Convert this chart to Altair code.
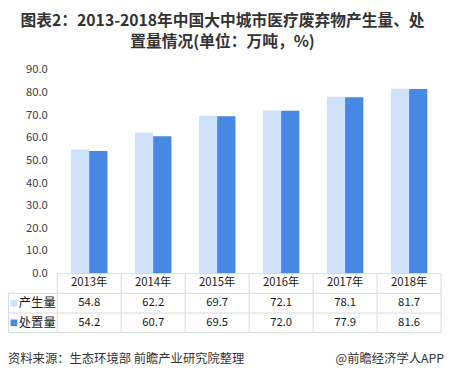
import altair as alt
import pandas as pd

# ---- data ----
years = ["2013年", "2014年", "2015年", "2016年", "2017年", "2018年"]
production = [54.8, 62.2, 69.7, 72.1, 78.1, 81.7]
disposal = [54.2, 60.7, 69.5, 72.0, 77.9, 81.6]
series_names = ["产生量", "处置量"]
series_colors = ["#cde1f9", "#4688e2"]
y_ticks = [0, 10, 20, 30, 40, 50, 60, 70, 80, 90]
title_lines = ["图表2：2013-2018年中国大中城市医疗废弃物产生量、处", "置量情况(单位：万吨，%)"]
source_text = "资料来源：生态环境部 前瞻产业研究院整理"
brand_text = "@前瞻经济学人APP"
header_key = "年份"

# ---- layout ----
W = 390
H_PLOT = 207
ROW = 20
H = H_PLOT + 3 * ROW
LINE_C = "#d9d9d9"
FONT = "Noto Sans CJK SC"
TABLE_LEFT = -49.5

rows = [header_key] + series_names

long_df = pd.DataFrame(
    [{"year": y, "series": series_names[0], "value": v} for y, v in zip(years, production)]
    + [{"year": y, "series": series_names[1], "value": v} for y, v in zip(years, disposal)]
)

table_df = pd.DataFrame(
    [{"year": y, "row": header_key, "label": y} for y in years]
    + [{"year": r["year"], "row": r["series"], "label": f"{r['value']:.1f}"} for _, r in long_df.iterrows()]
)
legend_df = pd.DataFrame({"row": series_names, "series": series_names})

color_scale = alt.Scale(domain=series_names, range=series_colors)

bars = alt.Chart(long_df).mark_bar().encode(
    x=alt.X("year:N", sort=years, axis=None,
            scale=alt.Scale(paddingInner=0.43, paddingOuter=0.215)),
    xOffset=alt.XOffset("series:N", sort=series_names,
                        scale=alt.Scale(paddingInner=0, paddingOuter=0)),
    y=alt.Y("value:Q",
            scale=alt.Scale(domain=[0, 90], range=[H_PLOT, 0], nice=False, zero=True),
            axis=alt.Axis(values=y_ticks, format=".1f", domain=False, ticks=False,
                          grid=False, labelPadding=10, labelFontSize=11.5,
                          labelColor="#404040", labelFont=FONT, title=None)),
    color=alt.Color("series:N", scale=color_scale, legend=None),
)

x_tab = alt.X("year:N", sort=years, axis=None, scale=alt.Scale(paddingInner=0, paddingOuter=0))
y_tab = alt.Y("row:N", sort=rows, axis=None,
              scale=alt.Scale(domain=rows, range=[H_PLOT, H], paddingInner=0, paddingOuter=0))

cells = alt.Chart(table_df).mark_text(fontSize=11.5, color="#1a1a1a", font=FONT).encode(
    x=x_tab, y=y_tab, text="label:N"
)

legend_sq = alt.Chart(legend_df).mark_square(size=46, opacity=1).encode(
    x=alt.value(-44), y=y_tab, color=alt.Color("series:N", scale=color_scale, legend=None)
)
legend_tx = alt.Chart(legend_df).mark_text(align="left", fontSize=12.5, color="#1a1a1a", font=FONT).encode(
    x=alt.value(-39), y=y_tab, text="row:N"
)

vlines = alt.Chart(pd.DataFrame({"year": years})).mark_rule(color=LINE_C).encode(
    x=alt.X("year:N", sort=years, axis=None, bandPosition=0,
            scale=alt.Scale(paddingInner=0, paddingOuter=0)),
    y=alt.value(H_PLOT), y2=alt.value(H)
)
line_base = alt.Chart(pd.DataFrame({"k": [0]}))
right_border = line_base.mark_rule(color=LINE_C).encode(
    x=alt.value(W), y=alt.value(H_PLOT), y2=alt.value(H))
left_border = line_base.mark_rule(color=LINE_C).encode(
    x=alt.value(TABLE_LEFT), y=alt.value(H_PLOT + ROW), y2=alt.value(H))
axis_line = line_base.mark_rule(color=LINE_C).encode(
    x=alt.value(0), x2=alt.value(W), y=alt.value(H_PLOT))
hl1 = line_base.mark_rule(color=LINE_C).encode(
    x=alt.value(TABLE_LEFT), x2=alt.value(W), y=alt.value(H_PLOT + ROW))
hl2 = line_base.mark_rule(color=LINE_C).encode(
    x=alt.value(TABLE_LEFT), x2=alt.value(W), y=alt.value(H_PLOT + 2 * ROW))
hl3 = line_base.mark_rule(color=LINE_C).encode(
    x=alt.value(TABLE_LEFT), x2=alt.value(W), y=alt.value(H))

table = alt.layer(vlines, right_border, left_border, axis_line, hl1, hl2, hl3,
                  cells, legend_sq, legend_tx)

footer_l = alt.Chart(pd.DataFrame({"t": [source_text]})).mark_text(
    align="left", fontSize=12.5, color="#333333", font=FONT).encode(
    x=alt.value(-50), y=alt.value(H + 27), text="t:N")
footer_r = alt.Chart(pd.DataFrame({"t": [brand_text]})).mark_text(
    align="right", fontSize=12.5, color="#333333", font=FONT).encode(
    x=alt.value(393), y=alt.value(H + 27), text="t:N")

chart = alt.layer(bars, table, footer_l, footer_r).resolve_scale(
    x="independent", y="independent"
).properties(
    width=W, height=H,
    title=alt.TitleParams(text=title_lines, fontSize=16, fontWeight="bold", color="#333333",
                          font=FONT, anchor="middle", frame="group", dx=-27, offset=14,
                          lineHeight=22),
    autosize=alt.AutoSizeParams(type="none"),
    padding={"left": 50, "top": 60, "right": 5, "bottom": 36},
    background="white",
).configure_view(stroke=None)

chart.save("out.html", embed_options={"renderer": "svg", "actions": False})
